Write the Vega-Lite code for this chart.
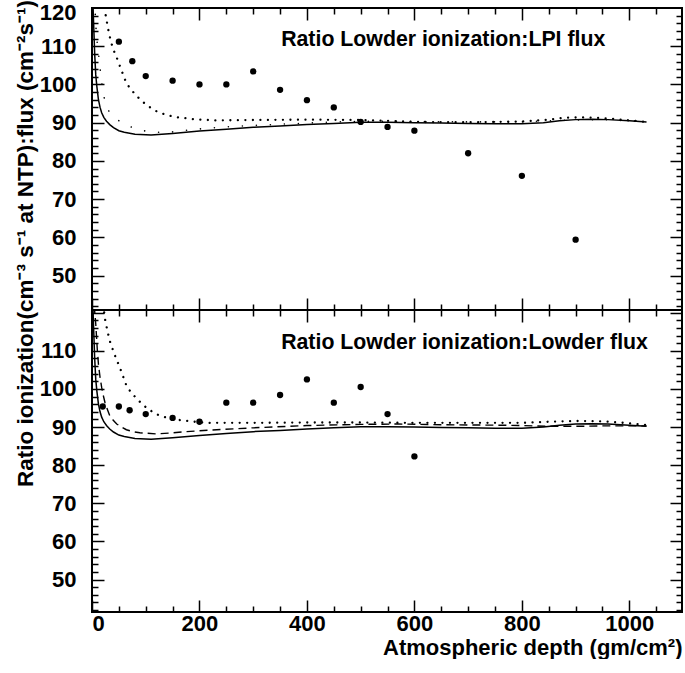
{
  "$schema": "https://vega.github.io/schema/vega-lite/v6.json",
  "padding": {"left": 14, "top": 0, "right": 0, "bottom": 0},
  "background": "white",
  "spacing": 0,
  "bounds": "flush",
  "title": {
    "text": "Ratio ionization(cm⁻³ s⁻¹ at NTP):flux (cm⁻²s⁻¹)",
    "orient": "left",
    "anchor": "end",
    "fontSize": 22.5,
    "fontWeight": "bold",
    "font": "Liberation Sans",
    "color": "black",
    "offset": 1
  },
  "config": {
    "view": {"stroke": "black", "strokeWidth": 2},
    "axis": {
      "domain": false,
      "grid": false,
      "zindex": 1,
      "tickColor": "black",
      "tickWidth": 1.5,
      "format": "d",
      "labelFont": "Liberation Sans",
      "labelFontSize": 22,
      "labelFontWeight": "bold",
      "labelColor": "black",
      "labelOverlap": false,
      "labelBound": false,
      "titleFont": "Liberation Sans",
      "titleFontSize": 22,
      "titleFontWeight": "bold",
      "titleColor": "black"
    }
  },
  "datasets": {
    "solid": [
      {"x": 1.5, "y": 122}, {"x": 3, "y": 116}, {"x": 5, "y": 108}, {"x": 7, "y": 102.5},
      {"x": 9, "y": 99.5}, {"x": 12, "y": 96}, {"x": 15, "y": 94}, {"x": 18, "y": 92.6},
      {"x": 22, "y": 91.4}, {"x": 27, "y": 90.4}, {"x": 33, "y": 89.5}, {"x": 40, "y": 88.7},
      {"x": 50, "y": 87.9}, {"x": 60, "y": 87.5}, {"x": 80, "y": 87.0}, {"x": 110, "y": 86.8},
      {"x": 150, "y": 87.2}, {"x": 200, "y": 87.8}, {"x": 250, "y": 88.3}, {"x": 300, "y": 88.8},
      {"x": 350, "y": 89.1}, {"x": 400, "y": 89.5}, {"x": 450, "y": 89.8}, {"x": 500, "y": 90.1},
      {"x": 550, "y": 90.1}, {"x": 600, "y": 90.0}, {"x": 650, "y": 89.9}, {"x": 700, "y": 89.8},
      {"x": 750, "y": 89.7}, {"x": 800, "y": 89.7}, {"x": 840, "y": 90.0}, {"x": 870, "y": 90.5},
      {"x": 900, "y": 90.8}, {"x": 930, "y": 90.9}, {"x": 960, "y": 90.8}, {"x": 1000, "y": 90.5},
      {"x": 1032, "y": 90.2}
    ],
    "top_d1": [
      {"x": 22, "y": 122}, {"x": 25, "y": 118.5}, {"x": 30, "y": 114.5}, {"x": 35, "y": 111.3},
      {"x": 40, "y": 109}, {"x": 45, "y": 107.4}, {"x": 54, "y": 104}, {"x": 64, "y": 100.3},
      {"x": 75, "y": 98.3}, {"x": 83, "y": 97}, {"x": 95, "y": 95.4}, {"x": 105, "y": 94.3},
      {"x": 120, "y": 93.0}, {"x": 130, "y": 92.4}, {"x": 145, "y": 91.8}, {"x": 160, "y": 91.4},
      {"x": 190, "y": 90.9}, {"x": 230, "y": 90.6}, {"x": 300, "y": 90.7}, {"x": 400, "y": 90.8},
      {"x": 500, "y": 90.7}, {"x": 550, "y": 90.5}, {"x": 600, "y": 90.2}, {"x": 700, "y": 90.1},
      {"x": 800, "y": 90.3}, {"x": 850, "y": 90.8}, {"x": 880, "y": 91.3}, {"x": 920, "y": 91.4},
      {"x": 960, "y": 91.1}, {"x": 1000, "y": 90.6}, {"x": 1032, "y": 90.2}
    ],
    "top_d2": [
      {"x": 5, "y": 122}, {"x": 7, "y": 115.5}, {"x": 10, "y": 110.5}, {"x": 13, "y": 107},
      {"x": 16, "y": 102.9}, {"x": 19.5, "y": 99}, {"x": 24, "y": 95.5}, {"x": 30, "y": 93.3},
      {"x": 36, "y": 92.2}, {"x": 42, "y": 91.3}, {"x": 55, "y": 90.0}, {"x": 67, "y": 89.2},
      {"x": 80, "y": 88.5}, {"x": 95, "y": 87.9}, {"x": 123, "y": 87.5}, {"x": 150, "y": 87.6},
      {"x": 180, "y": 88.1}, {"x": 210, "y": 88.5}, {"x": 260, "y": 89.0}, {"x": 320, "y": 89.4},
      {"x": 400, "y": 89.9}, {"x": 450, "y": 90.2}, {"x": 545, "y": 90.4}, {"x": 600, "y": 90.3},
      {"x": 700, "y": 90.2}, {"x": 800, "y": 90.2}, {"x": 850, "y": 90.5}, {"x": 900, "y": 90.7},
      {"x": 950, "y": 90.8}, {"x": 1000, "y": 90.5}, {"x": 1032, "y": 90.2}
    ],
    "top_pts": [
      {"x": 50, "y": 111.2}, {"x": 75, "y": 106.1}, {"x": 100, "y": 102.2}, {"x": 150, "y": 101.0},
      {"x": 200, "y": 100.0}, {"x": 250, "y": 100.0}, {"x": 300, "y": 103.4}, {"x": 350, "y": 98.6},
      {"x": 400, "y": 95.9}, {"x": 450, "y": 94.0}, {"x": 500, "y": 90.2}, {"x": 550, "y": 88.9},
      {"x": 600, "y": 87.9}, {"x": 700, "y": 82.0}, {"x": 800, "y": 76.1}, {"x": 900, "y": 59.4}
    ],
    "bot_d1": [
      {"x": 21, "y": 122}, {"x": 24, "y": 118.5}, {"x": 29, "y": 115}, {"x": 34, "y": 112.2},
      {"x": 39, "y": 110.2}, {"x": 44, "y": 108.3}, {"x": 50, "y": 106.2}, {"x": 55, "y": 104.4},
      {"x": 64, "y": 100.9}, {"x": 73, "y": 99}, {"x": 83, "y": 97.5}, {"x": 95, "y": 95.8},
      {"x": 105, "y": 94.7}, {"x": 117, "y": 93.6}, {"x": 129, "y": 92.8}, {"x": 145, "y": 92.3},
      {"x": 160, "y": 91.9}, {"x": 190, "y": 91.4}, {"x": 220, "y": 91.1}, {"x": 300, "y": 91.1},
      {"x": 400, "y": 91.2}, {"x": 500, "y": 91.2}, {"x": 600, "y": 91.1}, {"x": 700, "y": 91.1},
      {"x": 800, "y": 91.1}, {"x": 850, "y": 91.4}, {"x": 900, "y": 91.6}, {"x": 950, "y": 91.5},
      {"x": 1000, "y": 91.0}, {"x": 1032, "y": 90.5}
    ],
    "bot_dash": [
      {"x": 4, "y": 122}, {"x": 7, "y": 117}, {"x": 10, "y": 110}, {"x": 12, "y": 106.5},
      {"x": 15, "y": 103}, {"x": 18, "y": 100.4}, {"x": 21, "y": 98.3}, {"x": 24, "y": 96.5},
      {"x": 29, "y": 94.5}, {"x": 33, "y": 93}, {"x": 40, "y": 91.7}, {"x": 46, "y": 90.8},
      {"x": 55, "y": 90}, {"x": 64, "y": 89.3}, {"x": 76, "y": 88.8}, {"x": 89, "y": 88.5},
      {"x": 120, "y": 88.2}, {"x": 151, "y": 88.5}, {"x": 176, "y": 88.8}, {"x": 232, "y": 89.3},
      {"x": 300, "y": 89.8}, {"x": 400, "y": 90.4}, {"x": 500, "y": 90.7}, {"x": 570, "y": 90.8},
      {"x": 650, "y": 90.6}, {"x": 750, "y": 90.5}, {"x": 800, "y": 90.4}, {"x": 850, "y": 90.2},
      {"x": 900, "y": 90.2}, {"x": 950, "y": 90.3}, {"x": 1000, "y": 90.3}, {"x": 1032, "y": 90.3}
    ],
    "bot_pts": [
      {"x": 20, "y": 95.4}, {"x": 50, "y": 95.4}, {"x": 70, "y": 94.4}, {"x": 100, "y": 93.4},
      {"x": 150, "y": 92.4}, {"x": 200, "y": 91.4}, {"x": 250, "y": 96.4}, {"x": 300, "y": 96.4},
      {"x": 350, "y": 98.4}, {"x": 400, "y": 102.5}, {"x": 450, "y": 96.4}, {"x": 500, "y": 100.5},
      {"x": 550, "y": 93.4}, {"x": 600, "y": 82.3}
    ]
  },
  "vconcat": [
    {
      "width": 590,
      "height": 302,
      "resolve": {"axis": {"x": "independent", "y": "independent"}},
      "layer": [
        {
          "data": {"name": "solid"},
          "mark": {"type": "line", "color": "black", "strokeWidth": 1.5, "clip": true},
          "encoding": {
            "x": {"field": "x", "type": "quantitative",
                  "scale": {"domain": [0, 1098], "nice": false, "zero": false},
                  "axis": {"orient": "bottom", "values": [0, 200, 400, 600, 800, 1000], "offset": -12, "tickSize": 12, "labels": false, "title": null}},
            "y": {"field": "y", "type": "quantitative",
                  "scale": {"domain": [41, 120], "nice": false, "zero": false},
                  "axis": {"orient": "left", "values": [50, 60, 70, 80, 90, 100, 110], "offset": -12, "tickSize": 12, "labelPadding": 16, "title": null}}
          }
        },
        {
          "data": {"name": "top_d1"},
          "mark": {"type": "line", "color": "black", "strokeWidth": 2.3, "strokeDash": [0.01, 7.5], "strokeCap": "round", "clip": true},
          "encoding": {
            "x": {"field": "x", "type": "quantitative",
                  "axis": {"orient": "bottom", "values": [50, 100, 150, 250, 300, 350, 450, 500, 550, 650, 700, 750, 850, 900, 950, 1050], "tickSize": -6, "labels": false, "title": null}},
            "y": {"field": "y", "type": "quantitative",
                  "axis": {"orient": "left", "values": [42, 44, 46, 48, 52, 54, 56, 58, 62, 64, 66, 68, 72, 74, 76, 78, 82, 84, 86, 88, 92, 94, 96, 98, 102, 104, 106, 108, 112, 114, 116, 118], "tickSize": -6, "labels": false, "title": null}}
          }
        },
        {
          "data": {"name": "top_d2"},
          "mark": {"type": "line", "color": "black", "strokeWidth": 1.6, "strokeDash": [0.01, 14], "strokeCap": "round", "clip": true},
          "encoding": {
            "x": {"field": "x", "type": "quantitative",
                  "axis": {"orient": "top", "values": [0, 200, 400, 600, 800, 1000], "offset": -12, "tickSize": 12, "labels": false, "title": null}},
            "y": {"field": "y", "type": "quantitative",
                  "axis": {"orient": "right", "values": [50, 60, 70, 80, 90, 100, 110], "offset": -12, "tickSize": 12, "labels": false, "title": null}}
          }
        },
        {
          "data": {"name": "top_pts"},
          "mark": {"type": "circle", "color": "black", "size": 40, "opacity": 1},
          "encoding": {
            "x": {"field": "x", "type": "quantitative",
                  "axis": {"orient": "top", "values": [50, 100, 150, 250, 300, 350, 450, 500, 550, 650, 700, 750, 850, 900, 950, 1050], "tickSize": -6, "labels": false, "title": null}},
            "y": {"field": "y", "type": "quantitative",
                  "axis": {"orient": "right", "values": [42, 44, 46, 48, 52, 54, 56, 58, 62, 64, 66, 68, 72, 74, 76, 78, 82, 84, 86, 88, 92, 94, 96, 98, 102, 104, 106, 108, 112, 114, 116, 118], "tickSize": -6, "labels": false, "title": null}}
          }
        },
        {
          "data": {"values": [{}]},
          "mark": {"type": "text", "text": "Ratio Lowder ionization:LPI flux", "align": "left", "baseline": "alphabetic", "font": "Liberation Sans", "fontSize": 21.3, "fontWeight": "bold", "color": "black"},
          "encoding": {
            "x": {"datum": 352, "type": "quantitative", "axis": null},
            "y": {"datum": 110, "type": "quantitative",
                  "axis": {"orient": "left", "values": [120], "ticks": false, "labelPadding": 16, "labelOffset": 4, "title": null}}
          }
        }
      ]
    },
    {
      "width": 590,
      "height": 302,
      "resolve": {"axis": {"x": "independent", "y": "independent"}},
      "layer": [
        {
          "data": {"name": "solid"},
          "mark": {"type": "line", "color": "black", "strokeWidth": 1.5, "clip": true},
          "encoding": {
            "x": {"field": "x", "type": "quantitative",
                  "scale": {"domain": [0, 1098], "nice": false, "zero": false},
                  "axis": {"orient": "bottom", "values": [0, 200, 400, 600, 800, 1000], "offset": -12, "tickSize": 12, "labelPadding": 1, "title": "Atmospheric depth (gm/cm²)", "titleAnchor": "end", "titlePadding": 3}},
            "y": {"field": "y", "type": "quantitative",
                  "scale": {"domain": [41.5, 120.7], "nice": false, "zero": false},
                  "axis": {"orient": "left", "values": [50, 60, 70, 80, 90, 100, 110, 120], "labelExpr": "datum.value > 115 ? '' : datum.label", "offset": -12, "tickSize": 12, "labelPadding": 16, "title": null}}
          }
        },
        {
          "data": {"name": "bot_d1"},
          "mark": {"type": "line", "color": "black", "strokeWidth": 2.3, "strokeDash": [0.01, 7.5], "strokeCap": "round", "clip": true},
          "encoding": {
            "x": {"field": "x", "type": "quantitative",
                  "axis": {"orient": "bottom", "values": [50, 100, 150, 250, 300, 350, 450, 500, 550, 650, 700, 750, 850, 900, 950, 1050], "tickSize": -6, "labels": false, "title": null}},
            "y": {"field": "y", "type": "quantitative",
                  "axis": {"orient": "left", "values": [42, 44, 46, 48, 52, 54, 56, 58, 62, 64, 66, 68, 72, 74, 76, 78, 82, 84, 86, 88, 92, 94, 96, 98, 102, 104, 106, 108, 112, 114, 116, 118], "tickSize": -6, "labels": false, "title": null}}
          }
        },
        {
          "data": {"name": "bot_dash"},
          "mark": {"type": "line", "color": "black", "strokeWidth": 1.4, "strokeDash": [8, 5], "clip": true},
          "encoding": {
            "x": {"field": "x", "type": "quantitative",
                  "axis": {"orient": "top", "values": [0, 200, 400, 600, 800, 1000], "offset": -12, "tickSize": 12, "labels": false, "title": null}},
            "y": {"field": "y", "type": "quantitative",
                  "axis": {"orient": "right", "values": [50, 60, 70, 80, 90, 100, 110, 120], "offset": -12, "tickSize": 12, "labels": false, "title": null}}
          }
        },
        {
          "data": {"name": "bot_pts"},
          "mark": {"type": "circle", "color": "black", "size": 40, "opacity": 1},
          "encoding": {
            "x": {"field": "x", "type": "quantitative",
                  "axis": {"orient": "top", "values": [50, 100, 150, 250, 300, 350, 450, 500, 550, 650, 700, 750, 850, 900, 950, 1050], "tickSize": -6, "labels": false, "title": null}},
            "y": {"field": "y", "type": "quantitative",
                  "axis": {"orient": "right", "values": [42, 44, 46, 48, 52, 54, 56, 58, 62, 64, 66, 68, 72, 74, 76, 78, 82, 84, 86, 88, 92, 94, 96, 98, 102, 104, 106, 108, 112, 114, 116, 118], "tickSize": -6, "labels": false, "title": null}}
          }
        },
        {
          "data": {"values": [{}]},
          "mark": {"type": "text", "text": "Ratio Lowder ionization:Lowder flux", "align": "left", "baseline": "alphabetic", "font": "Liberation Sans", "fontSize": 21.3, "fontWeight": "bold", "color": "black"},
          "encoding": {
            "x": {"datum": 352, "type": "quantitative", "axis": null},
            "y": {"datum": 110.5, "type": "quantitative", "axis": null}
          }
        }
      ]
    }
  ]
}
